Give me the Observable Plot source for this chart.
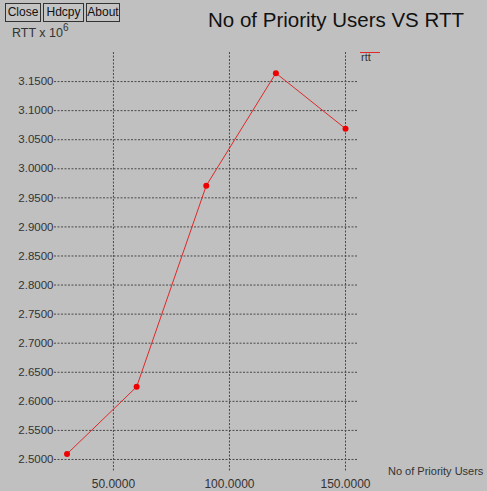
<!DOCTYPE html>
<html>
<head>
<meta charset="utf-8">
<script src="https://cdn.jsdelivr.net/npm/d3@7"></script>
<script src="https://cdn.jsdelivr.net/npm/@observablehq/plot@0.6"></script>
<style>
  html, body { margin: 0; padding: 0; background: #c0c0c0; overflow: hidden; }
  #wrap { position: relative; width: 487px; height: 491px; overflow: hidden; background: #c0c0c0; font-family: "Liberation Sans", Arial, sans-serif; color: #222; }
  #wrap svg { position: absolute; left: 0; top: 0; }
  .btn { position: absolute; top: 3px; height: 19px; border: 1px solid #333; box-sizing: border-box; font-size: 12px; line-height: 17px; text-align: center; color: #111; background: #c4c4c4; }
  .abs { position: absolute; white-space: nowrap; }
</style>
</head>
<body>
<div id="wrap"></div>
<script>
const users = [30, 60, 90, 120, 150];
const rtt = [2.5095, 2.625, 2.971, 3.1645, 3.069];
const xTicks = [50, 100, 150];
const yTicks = [2.50, 2.55, 2.60, 2.65, 2.70, 2.75, 2.80, 2.85, 2.90, 2.95, 3.00, 3.05, 3.10, 3.15];
const seriesName = "rtt";
const title = "No of Priority Users VS RTT";
const xLabel = "No of Priority Users";
const buttons = ["Close", "Hdcpy", "About"];

const data = users.map((u, i) => ({users: u, rtt: rtt[i]}));
const fmt = d3.format(".4f");

const chart = Plot.plot({
  width: 487,
  height: 491,
  marginLeft: 54,
  marginRight: 129,
  marginTop: 52,
  marginBottom: 19,
  style: {background: "transparent", fontFamily: "Liberation Sans, Arial, sans-serif", fontSize: "11px", color: "#333"},
  x: {domain: [24.6, 155.6]},
  y: {domain: [2.4776, 3.2]},
  marks: [
    Plot.ruleY(yTicks, {stroke: "#4a4a4a", strokeDasharray: "2,1.5", strokeWidth: 1}),
    Plot.ruleX(xTicks, {stroke: "#4a4a4a", strokeDasharray: "2,1.5", strokeWidth: 1}),
    Plot.axisY(yTicks, {tickSize: 0, tickPadding: 1, tickFormat: fmt, label: null, fontSize: 11.5}),
    Plot.axisX(xTicks, {tickSize: 0, tickPadding: 7, tickFormat: fmt, label: null, fontSize: 12}),
    Plot.line(data, {x: "users", y: "rtt", stroke: "#e02828", strokeWidth: 1}),
    Plot.dot(data, {x: "users", y: "rtt", r: 3, fill: "#ee0000", stroke: "none"})
  ]
});

const wrap = document.getElementById("wrap");
wrap.appendChild(chart);

// buttons
const btnPos = [[5, 36], [43, 41], [86, 34]];
buttons.forEach((b, i) => {
  const d = document.createElement("div");
  d.className = "btn";
  d.style.left = btnPos[i][0] + "px";
  d.style.width = btnPos[i][1] + "px";
  d.textContent = b;
  wrap.appendChild(d);
});

// title
const t = document.createElement("div");
t.className = "abs";
t.style.cssText = "left:0;width:672px;top:8px;text-align:center;font-size:20.5px;color:#111;";
t.textContent = title;
wrap.appendChild(t);

// y label
const yl = document.createElement("div");
yl.className = "abs";
yl.style.cssText = "left:12px;top:22px;font-size:12.5px;color:#333;";
yl.innerHTML = "RTT x 10<sup style='font-size:10px;vertical-align:6px'>6</sup>";
wrap.appendChild(yl);

// x label
const xl = document.createElement("div");
xl.className = "abs";
xl.style.cssText = "left:388px;top:465px;font-size:11px;color:#333;";
xl.textContent = xLabel;
wrap.appendChild(xl);

// legend
const lg = document.createElement("div");
lg.className = "abs";
lg.style.cssText = "left:360px;top:52px;width:20px;height:1px;background:#e02828;";
wrap.appendChild(lg);
const lt = document.createElement("div");
lt.className = "abs";
lt.style.cssText = "left:361px;top:51px;font-size:11px;color:#333;";
lt.textContent = seriesName;
wrap.appendChild(lt);
</script>
</body>
</html>
